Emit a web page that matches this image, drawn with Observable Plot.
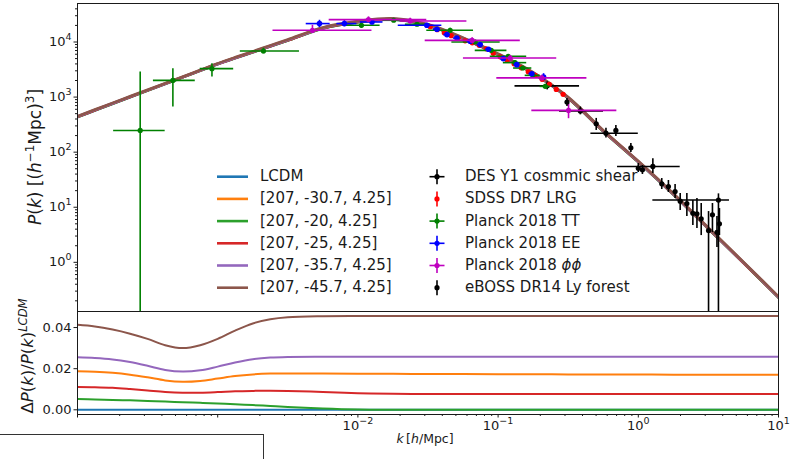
<!DOCTYPE html>
<html>
<head>
<meta charset="utf-8">
<script src="https://cdn.jsdelivr.net/npm/d3@7"></script>
<script src="https://cdn.jsdelivr.net/npm/@observablehq/plot@0.6"></script>
<style>
  html, body { margin: 0; padding: 0; background: #fff; }
  #fig { position: relative; width: 798px; height: 459px; overflow: hidden; background: #fff;
         font-family: "DejaVu Sans", sans-serif; color: #1a1a1a; }
  #fig > svg { position: absolute; left: 0; }
  .lab { position: absolute; white-space: nowrap; line-height: 1; }
  .leg { position: absolute; white-space: nowrap; font-size: 15px; line-height: 18px; }
  sup { font-size: 70%; vertical-align: baseline; position: relative; top: -0.55em; }
  .corner { position: absolute; left: 0; top: 434px; width: 263px; height: 40px;
            border-top: 1.5px solid #333; border-right: 1.5px solid #333; }
</style>
</head>
<body>
<div id="fig"></div>
<script>
// ---- model power spectra (k in h/Mpc, P in (Mpc/h)^3) ----
const kGrid = [1e-4, 1.33e-4, 1.78e-4, 2.37e-4, 3.16e-4, 4.22e-4, 5.62e-4, 7.5e-4, 1e-3,
  1.33e-3, 1.78e-3, 2.37e-3, 3.16e-3, 5.62e-3, 0.01, 0.0178, 0.0316, 0.0562, 0.1,
  0.178, 0.316, 0.562, 1, 1.78, 3.16, 5.62, 10];
const pLCDM = [432, 571, 755, 995, 1310, 1730, 2280, 3010, 3960, 5080, 6490, 8320, 10600,
  17600, 22900, 25700, 20000, 11500, 5890, 2690, 955, 240, 66.1, 17.0, 4.07, 0.977, 0.229];

// fractional difference relative to LCDM on the same k grid
const ratioLCDM = [0,0,0,0,0,0,0,0,0,0,0,0,0,0,0,0,0,0,0,0,0,0,0,0,0,0,0];
const ratioM30 = [0.0187, 0.0185, 0.0180, 0.0171, 0.0158, 0.0143, 0.0136, 0.0140, 0.0152,
  0.0164, 0.0172, 0.0176, 0.0177, 0.0176, 0.0175, 0.0175, 0.0174, 0.0174, 0.0173, 0.0173,
  0.0172, 0.0172, 0.0172, 0.0171, 0.0171, 0.0171, 0.0171];
const ratioM20 = [0.0052, 0.0050, 0.0048, 0.0046, 0.0043, 0.0040, 0.0037, 0.0034, 0.0031,
  0.0027, 0.0023, 0.0019, 0.0014, 0.0006, 0.0001, 0, 0, 0, 0, 0, 0, 0, 0, 0, 0, 0, 0];
const ratioM25 = [0.0111, 0.0110, 0.0107, 0.0101, 0.0094, 0.0087, 0.0083, 0.0083, 0.0086,
  0.0090, 0.0092, 0.0093, 0.0092, 0.0087, 0.0081, 0.0078, 0.0077, 0.0077, 0.0077, 0.0077,
  0.0077, 0.0077, 0.0077, 0.0077, 0.0077, 0.0077, 0.0077];
const ratioM35 = [0.0255, 0.0252, 0.0245, 0.0232, 0.0214, 0.0194, 0.0186, 0.0192, 0.0210,
  0.0230, 0.0246, 0.0254, 0.0257, 0.0258, 0.0258, 0.0258, 0.0258, 0.0258, 0.0258, 0.0258,
  0.0258, 0.0258, 0.0258, 0.0258, 0.0258, 0.0258, 0.0258];
const ratioM45 = [0.0413, 0.0405, 0.0390, 0.0370, 0.0345, 0.0314, 0.0300, 0.0314, 0.0345,
  0.0385, 0.0420, 0.0440, 0.0450, 0.0455, 0.0456, 0.0456, 0.0456, 0.0456, 0.0456, 0.0456,
  0.0456, 0.0456, 0.0456, 0.0456, 0.0456, 0.0456, 0.0456];

const modelLabels = ["LCDM", "[207, -30.7, 4.25]", "[207, -20, 4.25]", "[207, -25, 4.25]",
  "[207, -35.7, 4.25]", "[207, -45.7, 4.25]"];
const modelColors = ["#1f77b4", "#ff7f0e", "#2ca02c", "#d62728", "#9467bd", "#8c564b"];
const modelRatios = [ratioLCDM, ratioM30, ratioM20, ratioM25, ratioM35, ratioM45];

// ---- observational band powers ----
// [k, P, kLow, kHigh, PLow, PHigh]
const desRows = [
  [0.224, 1600, 0.132, 0.381, 1350, 1890],
  [0.386, 561, 0.274, 0.565, 476, 660],
  [0.588, 221, 0.459, 1.00, 180, 272],
  [1.27, 55.0, 0.711, 1.99, 41.0, 75.9],
  [3.73, 13.5, 1.27, 4.47, 0.01, 17.5]
];
// [k, P, PLow, PHigh]
const sdssRows = [
  [0.0328, 18900, 17800, 20000], [0.0368, 16700, 15700, 17700], [0.0413, 14700, 13800, 15600],
  [0.0463, 13000, 12200, 13800], [0.0519, 11700, 11000, 12400], [0.0582, 10500, 9870, 11100],
  [0.0654, 9670, 9090, 10300], [0.0733, 8710, 8190, 9230], [0.0822, 7520, 7070, 7970],
  [0.0923, 6230, 5860, 6600], [0.1035, 5380, 5060, 5700], [0.116, 4650, 4370, 4930],
  [0.130, 4020, 3780, 4260], [0.146, 3400, 3200, 3600], [0.164, 2870, 2700, 3040],
  [0.184, 2480, 2330, 2630], [0.206, 2100, 1970, 2230], [0.232, 1700, 1600, 1800],
  [0.260, 1380, 1300, 1460], [0.291, 1120, 1050, 1190]
];
// [k, P, kLow, kHigh, PLow, PHigh]
const ttRows = [
  [2.80e-4, 248, 1.81e-4, 4.22e-4, 0.01, 2850],
  [4.79e-4, 2010, 3.48e-4, 6.92e-4, 658, 3280],
  [9.10e-4, 3280, 7.50e-4, 1.30e-3, 2310, 4040],
  [2.12e-3, 6860, 1.45e-3, 3.83e-3, 6100, 7700],
  [1.06e-2, 20100, 7.88e-3, 1.44e-2, 17800, 22800],
  [1.80e-2, 24800, 1.51e-2, 2.18e-2, 23000, 26800],
  [2.64e-2, 21000, 2.18e-2, 3.28e-2, 19400, 22700],
  [4.55e-2, 16300, 3.10e-2, 6.68e-2, 15000, 17700],
  [6.87e-2, 10000, 4.68e-2, 0.1035, 9300, 10800],
  [8.93e-2, 7060, 6.87e-2, 0.1156, 6600, 7600],
  [0.118, 5500, 8.79e-2, 0.160, 5100, 5900],
  [0.132, 4220, 0.109, 0.160, 3950, 4500],
  [0.150, 3370, 0.129, 0.174, 3150, 3600],
  [0.177, 2480, 0.156, 0.1995, 2300, 2650],
  [0.217, 1565, 0.1995, 0.2355, 1450, 1700]
];
const eeRows = [
  [5.32e-3, 21600, 4.28e-3, 6.34e-3, 18300, 24800],
  [8.01e-3, 21600, 7.08e-3, 9.84e-3, 19000, 24500],
  [1.26e-2, 23100, 1.04e-2, 1.51e-2, 21000, 25300],
  [3.10e-2, 20100, 1.94e-2, 3.97e-2, 18800, 21500],
  [3.66e-2, 17000, 3.45e-2, 3.88e-2, 16000, 18000],
  [4.32e-2, 13600, 4.10e-2, 4.55e-2, 12800, 14400],
  [5.08e-2, 11800, 4.80e-2, 5.35e-2, 11100, 12500],
  [6.32e-2, 10300, 6.00e-2, 6.65e-2, 9700, 10900],
  [7.45e-2, 8970, 7.10e-2, 7.80e-2, 8450, 9500],
  [8.54e-2, 7370, 8.15e-2, 8.95e-2, 6950, 7800],
  [0.109, 4990, 0.104, 0.114, 4700, 5300],
  [0.136, 3880, 0.130, 0.142, 3650, 4100],
  [0.174, 2660, 0.166, 0.182, 2500, 2830],
  [0.211, 2310, 0.202, 0.220, 2010, 2660]
];
const ppRows = [
  [4.74e-3, 16300, 2.48e-3, 1.26e-2, 14200, 20100],
  [1.19e-2, 25500, 6.24e-3, 3.10e-2, 22700, 28600],
  [2.36e-2, 24100, 2.00e-2, 5.99e-2, 21500, 27000],
  [6.53e-2, 10700, 3.02e-2, 0.144, 9600, 11900],
  [0.122, 5120, 5.66e-2, 0.262, 4600, 5700],
  [0.205, 2230, 9.79e-2, 0.430, 2000, 2500],
  [0.318, 573, 0.174, 0.703, 405, 759]
];
// [k, P, PLow, PHigh]
const lyaRows = [
  [0.310, 811, 678, 946], [0.501, 328, 248, 410], [0.692, 248, 193, 306],
  [0.885, 120, 98.8, 144], [1.00, 51.2, 42.7, 62.3], [1.07, 47.9, 39.3, 57.3],
  [1.47, 26.6, 21.0, 33.2], [1.64, 23.8, 18.5, 30.6], [1.83, 19.3, 14.4, 25.9],
  [1.99, 12.9, 8.71, 17.7], [2.22, 11.7, 6.78, 17.7], [2.45, 7.78, 4.65, 13.2],
  [2.62, 7.59, 4.10, 14.4], [2.81, 6.15, 3.06, 11.7], [3.17, 3.77, 0.01, 8.35],
  [3.38, 7.28, 3.47, 11.7], [3.64, 3.51, 1.85, 6.78], [3.79, 4.99, 3.06, 9.47]
];
const surveyLabels = ["DES Y1 cosmmic shear", "SDSS DR7 LRG", "Planck 2018 TT",
  "Planck 2018 EE", "Planck 2018 <i>ϕϕ</i>", "eBOSS DR14 Ly forest"];
const surveyColors = ["#000000", "#ff0000", "#008000", "#0000ff", "#bf00bf", "#000000"];

// ---- tick values ----
const yMajor = [1, 10, 100, 1000, 10000];
const xMajor = [1e-4, 1e-3, 1e-2, 1e-1, 1, 10];
const ratioTicks = [0, 0.02, 0.04];

// ---------------------------------------------------------------
const minorOf = (decades, lo, hi) =>
  decades.flatMap(d => [2, 3, 4, 5, 6, 7, 8, 9].map(m => m * d)).filter(v => v > lo && v < hi);
const yMinor = minorOf([0.1, 1, 10, 100, 1000, 10000], 0.128, 5e4);
const xMinor = minorOf([1e-4, 1e-3, 1e-2, 1e-1, 1], 1e-4, 10);
const powLabel = d => { const e = Math.round(Math.log10(d)); return "10^" + (e < 0 ? "\u2212" + (-e) : e); };

const modelRows = modelRatios.flatMap((ratio, m) =>
  kGrid.map((k, i) => ({model: modelLabels[m], k, P: pLCDM[i] * (1 + ratio[i]), r: ratio[i]})));

function errorbars(rows, color, withX, r, yIdx) {
  const marks = [];
  const lo = yIdx[0], hi = yIdx[1];
  if (withX) marks.push(Plot.ruleY(rows, {y: d => d[1], x1: d => d[2], x2: d => d[3],
    stroke: color, strokeWidth: 1.6, clip: true}));
  marks.push(Plot.ruleX(rows, {x: d => d[0], y1: d => d[lo], y2: d => d[hi],
    stroke: color, strokeWidth: 1.6, clip: true}));
  marks.push(Plot.dot(rows, {x: d => d[0], y: d => d[1], r, fill: color, clip: true}));
  return marks;
}

const axisStyle = {overflow: "visible", background: "transparent", fontFamily: "DejaVu Sans",
  fontSize: "13px", color: "#1a1a1a"};

const powerPlot = Plot.plot({
  width: 798, height: 311,
  marginLeft: 77, marginRight: 20, marginTop: 3, marginBottom: 0,
  style: axisStyle,
  x: {type: "log", domain: [1e-4, 10], axis: null},
  y: {type: "log", domain: [0.128, 5e4]},
  marks: [
    ...modelLabels.map((lab, m) => Plot.line(modelRows.filter(d => d.model === lab),
      {x: "k", y: "P", stroke: modelColors[m], strokeWidth: 2.6, curve: "catmull-rom", clip: true})),
    ...errorbars(desRows, surveyColors[0], true, 2.6, [4, 5]),
    ...errorbars(sdssRows, surveyColors[1], false, 2.6, [2, 3]),
    ...errorbars(ttRows, surveyColors[2], true, 2.6, [4, 5]),
    ...errorbars(eeRows, surveyColors[3], true, 2.8, [4, 5]),
    ...errorbars(ppRows, surveyColors[4], true, 2.6, [4, 5]),
    ...errorbars(lyaRows, surveyColors[5], false, 2.6, [2, 3]),
    Plot.axisY(yMinor, {anchor: "left", tickSize: 2, tickFormat: () => "", label: null}),
    Plot.axisY(yMajor, {anchor: "left", tickSize: 3.5, tickPadding: 2.5, tickFormat: powLabel, label: null}),
    Plot.frame({stroke: "#1a1a1a", strokeWidth: 1})
  ]
});

const ratioPlot = Plot.plot({
  width: 798, height: 148,
  marginLeft: 77, marginRight: 20, marginTop: 0, marginBottom: 45,
  style: axisStyle,
  x: {type: "log", domain: [1e-4, 10]},
  y: {domain: [-0.00228, 0.0478]},
  marks: [
    ...modelLabels.map((lab, m) => Plot.line(modelRows.filter(d => d.model === lab),
      {x: "k", y: "r", stroke: modelColors[m], strokeWidth: 2, curve: "catmull-rom", clip: true})),
    Plot.axisX(xMinor, {anchor: "bottom", tickSize: 2, tickFormat: () => "", label: null}),
    Plot.axisX(xMajor, {anchor: "bottom", tickSize: 3.5, tickPadding: 3,
      tickFormat: d => d >= 0.01 ? powLabel(d) : "", label: null}),
    Plot.axisY(ratioTicks, {anchor: "left", tickSize: 3.5, tickPadding: 2.5,
      tickFormat: d3.format(".2f"), label: null}),
    Plot.frame({stroke: "#1a1a1a", strokeWidth: 1})
  ]
});

// render "10^n" tick labels with a raised exponent
function raiseExponents(svg) {
  const ns = "http://www.w3.org/2000/svg";
  svg.querySelectorAll("text").forEach(t => {
    const m = /^10\^(.+)$/.exec(t.textContent);
    if (!m) return;
    t.textContent = "";
    const base = document.createElementNS(ns, "tspan");
    base.textContent = "10";
    const exp = document.createElementNS(ns, "tspan");
    exp.textContent = m[1];
    exp.setAttribute("font-size", "9.5px");
    exp.setAttribute("dy", "-6");
    t.append(base, exp);
  });
}
raiseExponents(powerPlot);
raiseExponents(ratioPlot);

const fig = document.getElementById("fig");
powerPlot.style.top = "0px";
ratioPlot.style.top = "311px";
fig.append(powerPlot, ratioPlot);

// axis titles
const yTitle = document.createElement("div");
yTitle.className = "lab";
yTitle.style.cssText = "left:35px;top:157px;font-size:17px;transform:translate(-50%,-50%) rotate(-90deg);";
yTitle.innerHTML = "<i>P</i>(<i>k</i>) [(<i>h</i><sup>\u22121</sup>Mpc)<sup>3</sup>]";
fig.append(yTitle);

const rTitle = document.createElement("div");
rTitle.className = "lab";
rTitle.style.cssText = "left:28px;top:356px;font-size:16.5px;transform:translate(-50%,-50%) rotate(-90deg);";
rTitle.innerHTML = "\u0394<i>P</i>(<i>k</i>)/<i>P</i>(<i>k</i>)<sup><i>LCDM</i></sup>";
fig.append(rTitle);

const xTitle = document.createElement("div");
xTitle.className = "lab";
xTitle.style.cssText = "left:425px;top:439px;font-size:12.5px;transform:translate(-50%,-50%);";
xTitle.innerHTML = "<i>k</i>\u2009[<i>h</i>/Mpc]";
fig.append(xTitle);

// legend
const rowY = i => 176.7 + i * 22.2;
const legSvg = d3.create("svg").attr("width", 798).attr("height", 459)
  .style("position", "absolute").style("left", "0px").style("top", "0px");
modelLabels.forEach((lab, i) => {
  legSvg.append("line").attr("x1", 217).attr("x2", 248).attr("y1", rowY(i)).attr("y2", rowY(i))
    .attr("stroke", modelColors[i]).attr("stroke-width", 2.6);
  const t = document.createElement("div");
  t.className = "leg";
  t.style.left = "260px";
  t.style.top = (rowY(i) - 9.5) + "px";
  t.textContent = lab;
  fig.append(t);
});
const hasXerr = [true, false, true, true, true, false];
surveyLabels.forEach((lab, i) => {
  const y = rowY(i), c = surveyColors[i];
  legSvg.append("line").attr("x1", 437).attr("x2", 437).attr("y1", y - 7.5).attr("y2", y + 7.5)
    .attr("stroke", c).attr("stroke-width", 1.6);
  if (hasXerr[i]) legSvg.append("line").attr("x1", 429.5).attr("x2", 444.5).attr("y1", y).attr("y2", y)
    .attr("stroke", c).attr("stroke-width", 1.6);
  legSvg.append("circle").attr("cx", 437).attr("cy", y).attr("r", 2.6).attr("fill", c);
  const t = document.createElement("div");
  t.className = "leg";
  t.style.left = "465px";
  t.style.top = (y - 9.5) + "px";
  t.innerHTML = lab;
  fig.append(t);
});
fig.append(legSvg.node());

const corner = document.createElement("div");
corner.className = "corner";
fig.append(corner);
</script>
</body>
</html>
